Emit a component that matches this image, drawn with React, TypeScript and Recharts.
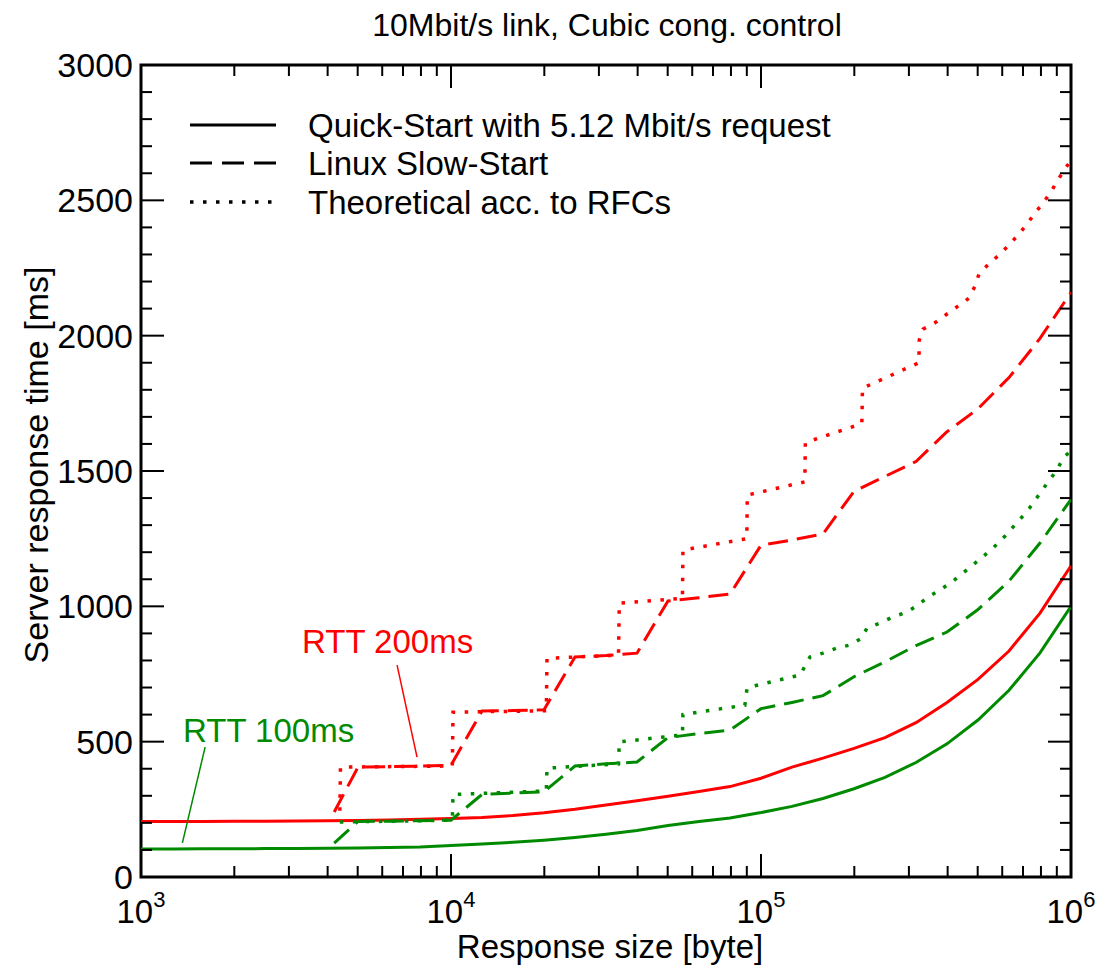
import React from 'react';
import { LineChart, Line, XAxis, YAxis, ReferenceLine, ReferenceArea } from 'recharts';

const RED = '#ff0000';
const GREEN = '#008a00';
const FONT = '"Liberation Sans", Arial, Helvetica, sans-serif';

// response sizes on a 0.1 decade grid [byte]
const gridSizes = [
  1000, 1259, 1585, 1995, 2512, 3162, 3981, 5012, 6310, 7943,
  10000, 12589, 15849, 19953, 25119, 31623, 39811, 50119, 63096, 79433,
  100000, 125893, 158489, 199526, 251189, 316228, 398107, 501187, 630957, 794328, 1000000,
];
// Quick-Start with 5.12 Mbit/s request [ms]
const qsRtt100 = [
  103, 103, 104, 104, 105, 105, 106, 107, 109, 111,
  116, 122, 128, 136, 146, 158, 172, 190, 205, 218,
  238, 261, 290, 326, 368, 423, 492, 580, 690, 828, 1000,
];
const qsRtt200 = [
  205, 205, 205, 206, 206, 207, 208, 209, 211, 213,
  216, 220, 227, 237, 250, 266, 282, 298, 316, 334,
  365, 406, 439, 475, 515, 570, 645, 730, 835, 975, 1150,
];

// Linux Slow-Start
const linuxSizes = [
  4200, 5012, 6310, 7943, 10000, 12589, 15849, 19953, 25119, 31623, 39811, 50119, 63096,
  79433, 100000, 125893, 158489, 199526, 251189, 316228, 398107, 501187, 630957, 794328, 1000000,
];
const linuxRtt100 = [
  125, 205, 206, 208, 210, 305, 310, 315, 410, 418, 425, 515, 530,
  543, 622, 645, 670, 740, 795, 855, 905, 988, 1093, 1234, 1395,
];
const linuxRtt200 = [
  240, 406, 408, 410, 413, 613, 615, 618, 813, 818, 827, 1020, 1032,
  1045, 1226, 1245, 1267, 1425, 1480, 1535, 1645, 1730, 1845, 1990, 2160,
];

// Theoretical acc. to RFCs
const rfcSizes200 = [
  4380, 4400, 10100, 10150, 20300, 20400, 34700, 34900, 55800, 56000, 90000, 90300,
  138500, 139000, 211500, 212500, 323000, 324000, 333000, 367000, 398000, 432000, 469000,
  490000, 505000, 543000, 586000, 631000, 675000, 721000, 765000, 818000, 868000, 915000, 964000, 1000000,
];
const rfcRtt200 = [
  245, 406, 410, 609, 614, 808, 820, 1012, 1030, 1208, 1250, 1411,
  1460, 1605, 1675, 1806, 1900, 1984, 2024, 2050, 2080, 2109, 2139,
  2183, 2228, 2265, 2298, 2335, 2372, 2412, 2453, 2494, 2538, 2582, 2623, 2645,
];
const rfcSizes100 = [
  4380, 10100, 10150, 20300, 20400, 34700, 34900, 55800, 56000, 88700, 90200, 133600,
  143900, 158500, 175800, 193600, 211700, 219700, 242000, 266600, 295900, 320900, 345600,
  377700, 412800, 448300, 483000, 528000, 569000, 613000, 655000, 700000, 748000, 794000,
  843000, 902000, 943000, 1000000,
];
const rfcRtt100 = [
  203, 210, 305, 318, 402, 418, 499, 525, 600, 635, 700, 746,
  813, 827, 846, 857, 883, 920, 938, 961, 979, 1005, 1034,
  1060, 1090, 1123, 1153, 1190, 1223, 1260, 1297, 1334, 1374, 1418,
  1459, 1504, 1548, 1575,
];

const xTicks = [
  1000, 2000, 3000, 4000, 5000, 6000, 7000, 8000, 9000,
  10000, 20000, 30000, 40000, 50000, 60000, 70000, 80000, 90000,
  100000, 200000, 300000, 400000, 500000, 600000, 700000, 800000, 900000, 1000000,
];
const yTicks = Array.from({ length: 31 }, (_, i) => i * 100);

const toPoints = (xs: number[], ys: number[]) => xs.map((x, i) => ({ x, y: ys[i] }));

const isDecade = (v: number) => Math.abs(Math.log10(v) - Math.round(Math.log10(v))) < 1e-9;

const BottomTick = (props: any) => {
  const { x, y, payload } = props;
  const major = isDecade(payload.value);
  return (
    <g>
      <line x1={x} y1={y} x2={x} y2={y - (major ? 23 : 11)} stroke="#000" strokeWidth={2} />
      {major && (
        <text x={x} y={y + 46} textAnchor="middle" fontSize={33} fontFamily={FONT} fill="#000">
          10
          <tspan dy={-16} fontSize={22}>
            {Math.round(Math.log10(payload.value))}
          </tspan>
        </text>
      )}
    </g>
  );
};

const TopTick = (props: any) => {
  const { x, y, payload } = props;
  const major = isDecade(payload.value);
  return <line x1={x} y1={y} x2={x} y2={y + (major ? 23 : 11)} stroke="#000" strokeWidth={2} />;
};

const LeftTick = (props: any) => {
  const { x, y, payload } = props;
  const major = payload.value % 500 === 0;
  return (
    <g>
      <line x1={x} y1={y} x2={x + (major ? 23 : 11)} y2={y} stroke="#000" strokeWidth={2} />
      {major && (
        <text x={x - 8} y={y + 12} textAnchor="end" fontSize={34} fontFamily={FONT} fill="#000">
          {payload.value}
        </text>
      )}
    </g>
  );
};

const RightTick = (props: any) => {
  const { x, y, payload } = props;
  const major = payload.value % 500 === 0;
  return <line x1={x} y1={y} x2={x - (major ? 23 : 11)} y2={y} stroke="#000" strokeWidth={2} />;
};

const DASH = '20 9';
const DOT = '3.5 9.5';

const App: React.FC = () => {
  return (
    <div style={{ position: 'absolute', left: 0, top: 0, width: 1095, height: 966, background: '#fff' }}>
      <LineChart width={1095} height={966} margin={{ top: 60, right: 20, bottom: 29, left: 41 }}>
        <XAxis
          dataKey="x"
          type="number"
          scale="log"
          domain={[1000, 1000000]}
          allowDataOverflow
          ticks={xTicks}
          interval={0}
          height={60}
          tickSize={0}
          tickMargin={0}
          axisLine={false}
          tick={(p: any) => <BottomTick {...p} />}
        />
        <XAxis
          xAxisId="top"
          orientation="top"
          dataKey="x"
          type="number"
          scale="log"
          domain={[1000, 1000000]}
          allowDataOverflow
          ticks={xTicks}
          interval={0}
          height={5}
          tickSize={0}
          tickMargin={0}
          axisLine={false}
          tick={(p: any) => <TopTick {...p} />}
        />
        <YAxis
          type="number"
          domain={[0, 3000]}
          allowDataOverflow
          ticks={yTicks}
          interval={0}
          width={100}
          tickSize={0}
          tickMargin={0}
          axisLine={false}
          tick={(p: any) => <LeftTick {...p} />}
        />
        <YAxis
          yAxisId="right"
          orientation="right"
          type="number"
          domain={[0, 3000]}
          allowDataOverflow
          ticks={yTicks}
          interval={0}
          width={4}
          tickSize={0}
          tickMargin={0}
          axisLine={false}
          tick={(p: any) => <RightTick {...p} />}
        />

        <Line data={toPoints(gridSizes, qsRtt100)} dataKey="y" type="linear" stroke={GREEN} strokeWidth={3} dot={false} isAnimationActive={false} />
        <Line data={toPoints(gridSizes, qsRtt200)} dataKey="y" type="linear" stroke={RED} strokeWidth={3} dot={false} isAnimationActive={false} />
        <Line data={toPoints(linuxSizes, linuxRtt100)} dataKey="y" type="linear" stroke={GREEN} strokeWidth={3} strokeDasharray={DASH} dot={false} isAnimationActive={false} />
        <Line data={toPoints(linuxSizes, linuxRtt200)} dataKey="y" type="linear" stroke={RED} strokeWidth={3} strokeDasharray={DASH} dot={false} isAnimationActive={false} />
        <Line data={toPoints(rfcSizes100, rfcRtt100)} dataKey="y" type="linear" stroke={GREEN} strokeWidth={3.5} strokeDasharray={DOT} dot={false} isAnimationActive={false} />
        <Line data={toPoints(rfcSizes200, rfcRtt200)} dataKey="y" type="linear" stroke={RED} strokeWidth={3.5} strokeDasharray={DOT} dot={false} isAnimationActive={false} />

        <ReferenceLine segment={[{ x: 6700, y: 783 }, { x: 7770, y: 443 }]} stroke={RED} strokeWidth={1.5} />
        <ReferenceLine segment={[{ x: 1610, y: 480 }, { x: 1360, y: 126 }]} stroke={GREEN} strokeWidth={1.5} />
        <ReferenceArea x1={1000} x2={1000000} y1={0} y2={3000} fill="none" stroke="#000" strokeWidth={3} ifOverflow="visible" />
      </LineChart>

      <svg width={1095} height={966} style={{ position: 'absolute', left: 0, top: 0, pointerEvents: 'none' }} fontFamily={FONT}>
        <text x={607} y={36} textAnchor="middle" fontSize={32} fill="#000">
          10Mbit/s link, Cubic cong. control
        </text>
        <text transform="translate(48,465) rotate(-90)" textAnchor="middle" fontSize={34} fill="#000">
          Server response time [ms]
        </text>
        <text x={610} y={958} textAnchor="middle" fontSize={33} fill="#000">
          Response size [byte]
        </text>

        <line x1={190} y1={125} x2={276} y2={125} stroke="#000" strokeWidth={3} />
        <text x={308} y={137} fontSize={33} fill="#000">Quick-Start with 5.12 Mbit/s request</text>
        <line x1={190} y1={163} x2={276} y2={163} stroke="#000" strokeWidth={3} strokeDasharray="22 10" />
        <text x={308} y={175} fontSize={33} fill="#000">Linux Slow-Start</text>
        <line x1={190} y1={202} x2={276} y2={202} stroke="#000" strokeWidth={3.5} strokeDasharray={DOT} />
        <text x={308} y={214} fontSize={33} fill="#000">Theoretical acc. to RFCs</text>

        <text x={302} y={653} fontSize={33} fill={RED}>RTT 200ms</text>
        <text x={183} y={742} fontSize={33} fill={GREEN}>RTT 100ms</text>
      </svg>
    </div>
  );
};

export default App;
